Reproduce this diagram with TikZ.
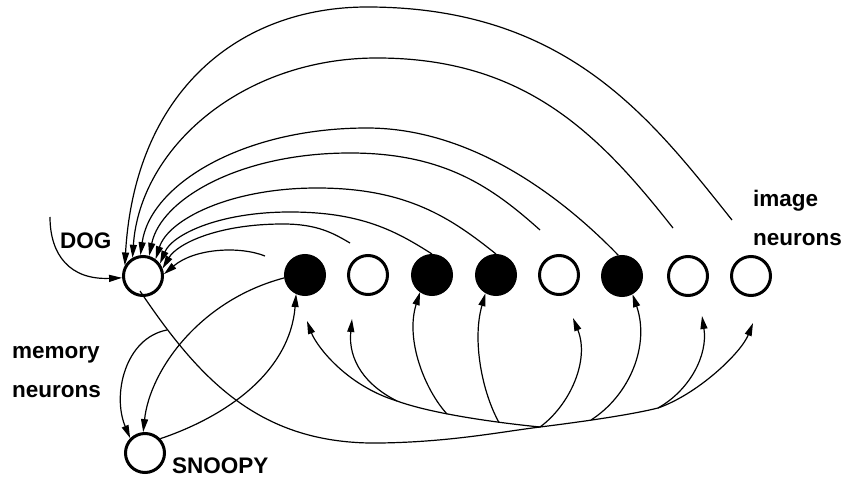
\documentclass[tikz,border=0pt]{standalone}
\usepackage{fontspec}
\setmainfont{Liberation Sans}
\usetikzlibrary{arrows.meta,calc}
\begin{document}
\begin{tikzpicture}[x=1pt,y=-1pt,
  neuron/.style={circle,draw,line width=3pt,minimum size=39pt,inner sep=0pt},
  active/.style={neuron,fill=black},
  idle/.style={neuron,fill=white},
  lbl/.style={font=\bfseries\fontsize{22.5}{27}\selectfont,inner sep=0pt,anchor=base west},
  conn/.style={line width=1.2pt},
  arr/.style={conn,-{Triangle[length=13pt,width=7pt]}}
]
\useasboundingbox (0,0) rectangle (845,478);
% neurons
\node[idle] (DOG) at (143,276) {};
\node[idle] (SN) at (145,453) {};
\node[active] (B1) at (305,275) {};
\node[idle] (W2) at (368,275) {};
\node[active] (B3) at (432,275) {};
\node[active] (B4) at (496,275) {};
\node[idle] (W5) at (559,275) {};
\node[active] (B6) at (622,276) {};
\node[idle] (W7) at (688,276) {};
\node[idle] (W8) at (751,276) {};
% labels
\node[lbl] (tDOG) at (60,248) {DOG};
\node[lbl] (tImg) at (753,207) {image};
\node[lbl] (tImgN) at (753,245) {neurons};
\node[lbl] (tMem) at (12,358) {memory};
\node[lbl] (tMemN) at (12,397) {neurons};
\node[lbl] (tSN) at (172,473) {SNOOPY};
% free ends and junctions
\coordinate (D0) at ($(DOG.center)+(-3,15)$);
\coordinate (I0) at (50,217);
\coordinate (J1) at (540,427);
\coordinate (K7) at (658,408);
\coordinate (A1) at (307,321);
\coordinate (A2) at (352,319);
\coordinate (A5) at (573,318);
\coordinate (A7) at (702,316);
\coordinate (A8) at (753,323);
\coordinate (B2j) at (397,401);
\coordinate (B3j) at (447,414);
\coordinate (B4j) at (499,422.5);
\coordinate (B6j) at (591,420);
\coordinate (M0) at (167,330);
\coordinate (T1) at (732,220);
\coordinate (T2) at (673,228);
\coordinate (T4) at (540,230);
\coordinate (T7) at (350,243);
\coordinate (T8) at (265,256);
% external input
\draw[arr] (I0) .. controls (50,255) and (70,280) .. (DOG.185);
% feedback arcs to DOG
\draw[arr] (T1) .. controls (652,120) and (568,7) .. (367,7) .. controls (240,7) and (135,90) .. (DOG.150);
\draw[arr] (T2) .. controls (599,134) and (525,58) .. (377,58) .. controls (242,58) and (140,148) .. (DOG.120);
\draw[arr] (B6.100) .. controls (560,195) and (470,128) .. (367,128) .. controls (242,128) and (150,185) .. (DOG.97);
\draw[arr] (T4) .. controls (493,188) and (445,153) .. (350,153) .. controls (240,153) and (161,199) .. (DOG.73);
\draw[arr] (B4.north) .. controls (451,218) and (407,188) .. (317,188) .. controls (229,188) and (168,220) .. (DOG.53);
\draw[arr] (B3.north) .. controls (396,231) and (361,212) .. (290,212) .. controls (218,212) and (172,235) .. (DOG.36);
\draw[arr] (T7) .. controls (333,233) and (317,224) .. (283,224) .. controls (217,224) and (177,244) .. (DOG.21);
\draw[arr] (T8) .. controls (240,246) and (195,248) .. (DOG.5);
% DOG fan-out along the bottom
\draw[arr] (D0) .. controls (200,380) and (260,445) .. (380,443) .. controls (450,442) and (500,432) .. (J1) .. controls (580,422) and (630,415) .. (K7) .. controls (698,394) and (741,353) .. (A8);
\draw[arr] (J1) .. controls (490,422) and (430,413) .. (B2j) .. controls (345,385) and (316,345) .. (A1);
\draw[arr] (B2j) .. controls (365,385) and (348,360) .. (A2);
\draw[arr] (B3j) .. controls (425,390) and (405,340) .. (B3.235);
\draw[arr] (B4j) .. controls (482,392) and (472,340) .. (B4.240);
\draw[arr] (J1) .. controls (570,405) and (590,360) .. (A5);
\draw[arr] (B6j) .. controls (630,395) and (650,345) .. (B6.300);
\draw[arr] (K7) .. controls (690,390) and (708,355) .. (A7);
% memory connections
\draw[arr] (SN.43) .. controls (230,415) and (290,370) .. (B1.245);
\draw[arr] (B1.188) .. controls (200,300) and (150,370) .. (SN.95);
\draw[arr] (M0) .. controls (125,338) and (112,395) .. (SN.135);
\end{tikzpicture}
\end{document}
